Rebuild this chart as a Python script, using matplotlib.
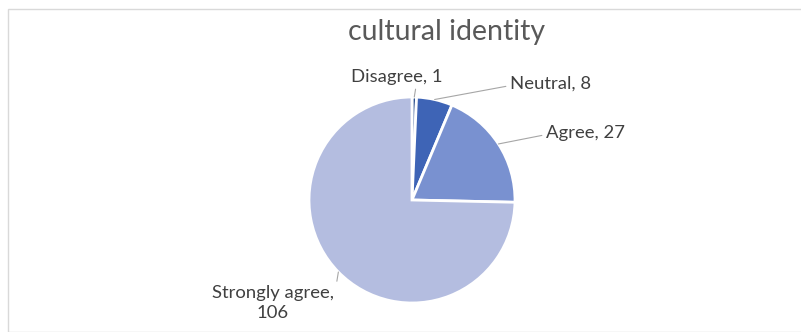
import numpy as np
import matplotlib
matplotlib.use('Agg')
import matplotlib.pyplot as plt
from matplotlib.patches import Rectangle

title = 'cultural identity'
categories = ['Disagree', 'Neutral', 'Agree', 'Strongly agree']
counts = [1, 8, 27, 106]
colors = ['#2F528F', '#3E64B6', '#7991D0', '#B4BDE0']

# label text placement in figure pixels (top-left origin), alignment, leader anchor
label_pos = {
    'Disagree': (397, 77, 'center', (0.71, 0.0)),
    'Neutral': (510, 84, 'left', (0.0, 0.4)),
    'Agree': (546, 133, 'left', (0.0, 0.4)),
    'Strongly agree': (273, 303, 'center', (1.0, 0.62)),
}

W, H = 801, 332
plt.rcParams['font.family'] = ['Lato', 'DejaVu Sans']
fig = plt.figure(figsize=(W / 100, H / 100), dpi=100)

# chart frame
fig.patches.append(Rectangle((8 / W, 0), 1, 1 - 9 / H, transform=fig.transFigure,
                             fill=False, edgecolor='#d9d9d9', linewidth=1))

fig.text(447 / W, 1 - 32 / H, title, ha='center', va='center',
         fontsize=20.5, color='#595959')

cx, cy, r = 412, 200, 103
ax = fig.add_axes([(cx - r) / W, (H - cy - r) / H, 2 * r / W, 2 * r / H])
wedges, _ = ax.pie(counts, colors=colors, startangle=90, counterclock=False,
                   radius=1, wedgeprops=dict(edgecolor='white', linewidth=2))
ax.set_xlim(-1, 1)
ax.set_ylim(-1, 1)
ax.set_aspect('auto')
ax.axis('off')

for w, cat, n in zip(wedges, categories, counts):
    mid = np.deg2rad((w.theta1 + w.theta2) / 2)
    px, py = np.cos(mid), np.sin(mid)
    tx, ty, ha, rel = label_pos[cat]
    text = f'{cat}, {n}'
    if cat == 'Strongly agree':
        text = f'{cat},\n{n}'
    ax.annotate(text, xy=(px, py), xycoords='data',
                xytext=(tx, H - ty), textcoords='figure pixels',
                ha=ha, va='center', fontsize=13.3, color='#404040',
                linespacing=1.25, annotation_clip=False,
                arrowprops=dict(arrowstyle='-', color='#a6a6a6', lw=0.8,
                                shrinkA=1, shrinkB=0, relpos=rel))

fig.savefig('out.png', dpi=100)
